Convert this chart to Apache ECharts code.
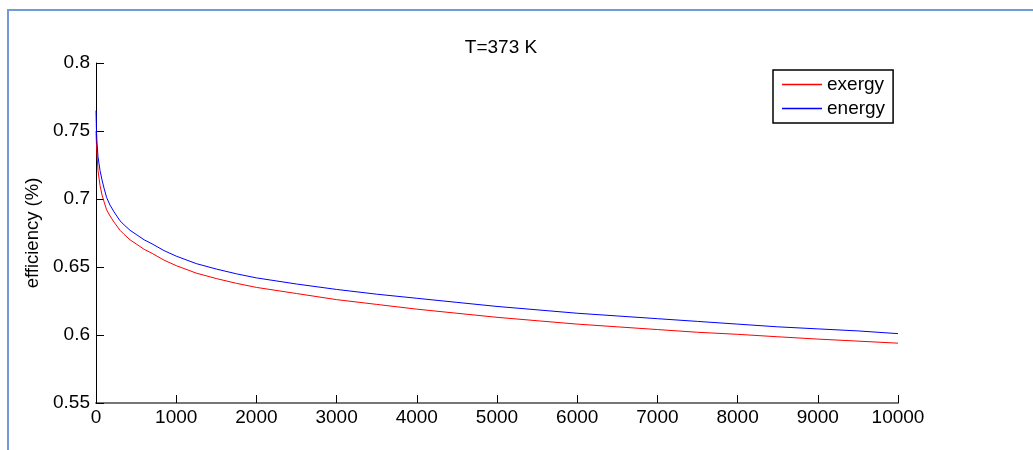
<!DOCTYPE html>
<html>
<head>
<meta charset="utf-8">
<script src="https://cdn.jsdelivr.net/npm/echarts@6/dist/echarts.min.js"></script>
<style>
html,body{margin:0;padding:0;background:#fff;}
#chart{width:1033px;height:450px;}
</style>
</head>
<body>
<div id="chart"></div>
<script>
const titleText = 'T=373 K';
const yAxisName = 'efficiency (%)';
const seriesNames = ['exergy', 'energy'];
const timeSteps = [0, 5, 10, 25, 50, 75, 100, 133, 175, 225, 299, 350, 424, 500, 600, 700, 850, 1000, 1250, 1500, 1750, 2000, 2500, 3000, 3500, 4000, 4500, 5000, 5500, 6000, 6500, 7000, 7500, 8000, 8500, 9000, 9500, 10000];
const exergyValues = [0.750, 0.741, 0.735, 0.721, 0.710, 0.703, 0.698, 0.692, 0.6875, 0.683, 0.677, 0.674, 0.670, 0.667, 0.663, 0.660, 0.655, 0.651, 0.6455, 0.6415, 0.638, 0.635, 0.6305, 0.626, 0.6225, 0.619, 0.616, 0.613, 0.6105, 0.608, 0.606, 0.604, 0.602, 0.6005, 0.5987, 0.597, 0.5955, 0.594];
const energyValues = [0.765, 0.752, 0.744, 0.731, 0.721, 0.714, 0.708, 0.701, 0.6955, 0.6905, 0.684, 0.681, 0.677, 0.674, 0.670, 0.667, 0.662, 0.658, 0.6525, 0.6485, 0.645, 0.642, 0.6375, 0.6335, 0.630, 0.627, 0.624, 0.621, 0.6185, 0.616, 0.614, 0.612, 0.610, 0.608, 0.606, 0.6045, 0.603, 0.601];
const xTicks = {min: 0, max: 10000, interval: 1000};
const yTicks = {min: 0.55, max: 0.8, interval: 0.05};

const font = "'Liberation Sans', Arial, Helvetica, sans-serif";
const chart = echarts.init(document.getElementById('chart'), null, {renderer: 'canvas'});
chart.setOption({
  animation: false,
  backgroundColor: '#ffffff',
  title: {
    text: titleText,
    left: 496,
    top: 33,
    textAlign: 'center',
    textStyle: {fontFamily: font, fontSize: 19, fontWeight: 'normal', color: '#000'}
  },
  legend: {
    data: seriesNames,
    orient: 'vertical',
    left: 773,
    top: 70,
    padding: [5, 8, 5, 9],
    itemWidth: 40,
    itemHeight: 14,
    itemGap: 5,
    icon: 'path://M0,0L40,0L40,1.5L0,1.5Z',
    borderColor: '#000',
    borderWidth: 1.5,
    borderRadius: 0,
    textStyle: {fontFamily: font, fontSize: 19, color: '#000'}
  },
  grid: {left: 96, right: 135, top: 63, bottom: 47, containLabel: false},
  xAxis: {
    type: 'value',
    min: xTicks.min, max: xTicks.max, interval: xTicks.interval,
    axisLine: {show: true, onZero: false, lineStyle: {color: '#777', width: 2}},
    axisTick: {show: true, inside: true, length: 8, lineStyle: {color: '#000', width: 1}},
    axisLabel: {fontFamily: font, fontSize: 19, color: '#000', margin: 5, formatter: v => String(v)},
    splitLine: {show: false}
  },
  yAxis: {
    type: 'value',
    min: yTicks.min, max: yTicks.max, interval: yTicks.interval,
    name: yAxisName,
    nameLocation: 'middle',
    nameRotate: 90,
    nameGap: 52,
    nameTextStyle: {fontFamily: font, fontSize: 18.5, color: '#000'},
    axisLine: {show: true, lineStyle: {color: '#000', width: 1}},
    axisTick: {show: true, inside: true, length: 8, lineStyle: {color: '#000', width: 1}},
    axisLabel: {fontFamily: font, fontSize: 19, color: '#000', margin: 6},
    splitLine: {show: false}
  },
  graphic: [{
    type: 'rect',
    shape: {x: 8, y: 10, width: 1100, height: 600},
    style: {fill: 'none', stroke: '#6f9bd6', lineWidth: 2},
    silent: true
  }],
  series: [
    {
      name: seriesNames[0], type: 'line', symbol: 'none', smooth: false,
      lineStyle: {color: '#ff0000', width: 1}, itemStyle: {color: '#ff0000'},
      data: timeSteps.map((t, i) => [t, exergyValues[i]])
    },
    {
      name: seriesNames[1], type: 'line', symbol: 'none', smooth: false,
      lineStyle: {color: '#0000ff', width: 1}, itemStyle: {color: '#0000ff'},
      data: timeSteps.map((t, i) => [t, energyValues[i]])
    }
  ]
});
</script>
</body>
</html>
